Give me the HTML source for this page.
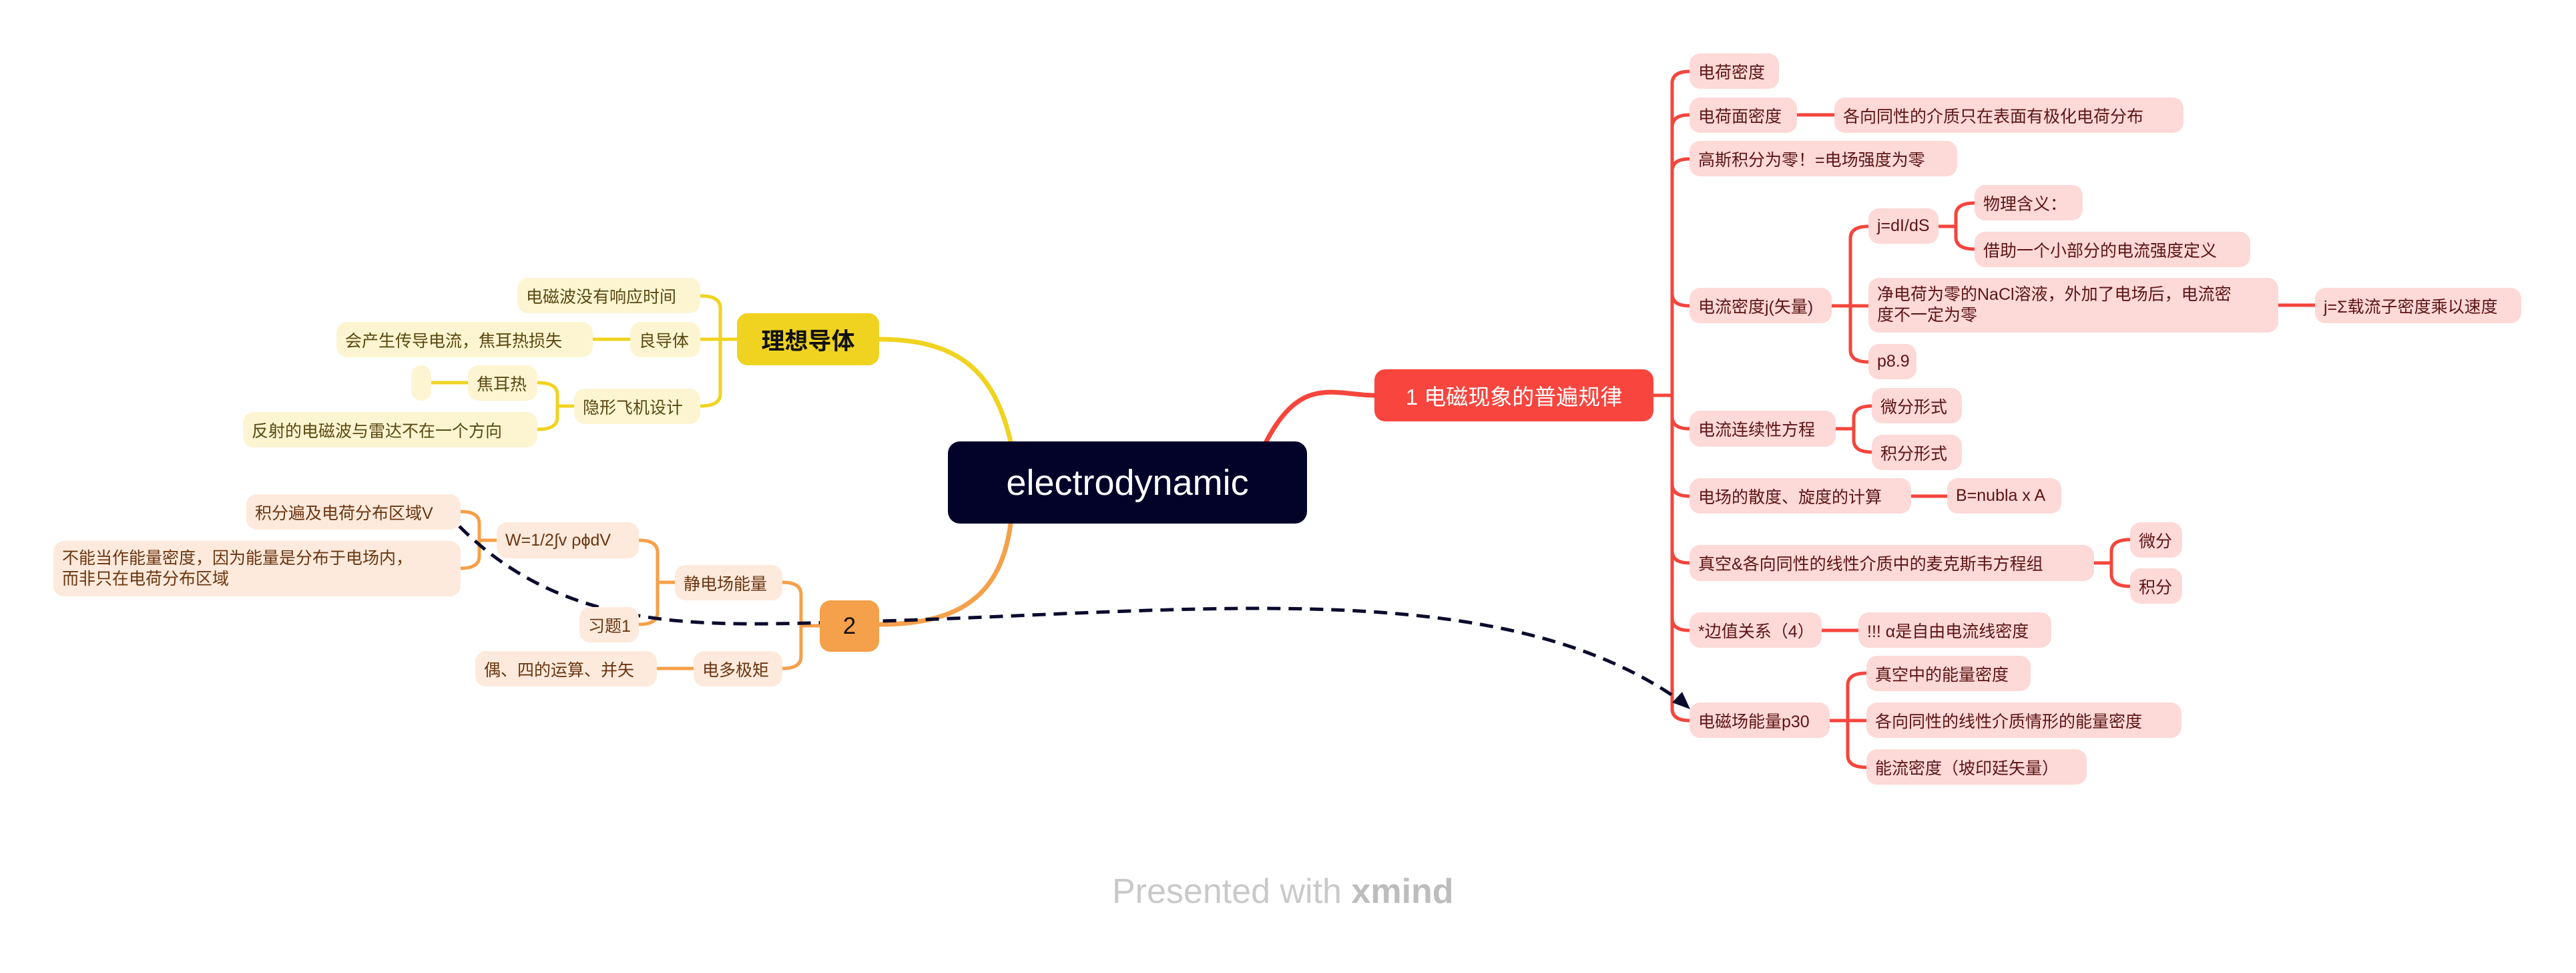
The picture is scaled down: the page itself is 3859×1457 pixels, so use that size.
<!DOCTYPE html>
<html><head><meta charset="utf-8"><style>
body{margin:0;width:3859px;height:1457px;background:#fff;position:relative;overflow:hidden;font-family:"Liberation Sans","Noto Sans CJK SC",sans-serif;}
.b{position:absolute;display:flex;align-items:center;box-sizing:border-box;padding-left:13px;border-radius:16px;font-size:25px;white-space:nowrap;}
.r{background:#fdd9d8;color:#5c1414;}
.y{background:#fdf5d2;color:#5a4810;}
.o{background:#fdeadc;color:#6a3510;}
.m{line-height:31px;}
svg{position:absolute;left:0;top:0;}
</style></head><body>
<svg width="3859" height="1457" fill="none" stroke-linecap="round">
<path d="M1897,661 C1950,560 2000,592 2060,592" stroke="#f5453c" stroke-width="7"/>
<path d="M1317,508 C1440,508 1490,560 1514,661" stroke="#f0d31f" stroke-width="7"/>
<path d="M1317,935 C1440,935 1500,890 1514,784" stroke="#f5a04a" stroke-width="7"/>
<g stroke="#f5453c" stroke-width="5">
<path d="M2477,592 H2505"/>
<path d="M2505,125 Q2505,107 2531,107 M2505,125 V1061 Q2505,1079 2531,1079"/>
<path d="M2505,190 Q2505,172 2531,172 M2505,256 Q2505,238 2531,238 M2505,440 Q2505,458 2531,458 M2505,624 Q2505,642 2531,642 M2505,725 Q2505,743 2531,743 M2505,825 Q2505,843 2531,843 M2505,926 Q2505,944 2531,944"/>
<path d="M2692,172 H2748 M3413,457 H3468 M2863,743 H2917 M2729,944 H2784"/>
<path d="M2744,458 H2799 M2772,357 Q2772,339 2799,339 M2772,357 V524 Q2772,542 2799,542"/>
<path d="M2904,339 H2930 M2930,322 Q2930,304 2958,304 M2930,322 V355 Q2930,373 2958,373"/>
<path d="M2750,642 H2777 M2777,626 Q2777,608 2804,608 M2777,626 V659 Q2777,677 2804,677"/>
<path d="M3137,843 H3163 M3163,826 Q3163,808 3191,808 M3163,826 V860 Q3163,878 3191,878"/>
<path d="M2741,1079 H2796 M2768,1026 Q2768,1008 2796,1008 M2768,1026 V1131 Q2768,1149 2796,1149"/>
</g>
<g stroke="#f0d31f" stroke-width="5">
<path d="M1104,508 H1049 M1079,461 Q1079,443 1049,443 M1079,461 V590 Q1079,608 1049,608"/>
<path d="M944,508 H888 M701,573 H646"/>
<path d="M860,608 H835 M835,591 Q835,573 805,573 M835,591 V625 Q835,643 805,643"/>
</g>
<g stroke="#f5a04a" stroke-width="5">
<path d="M1228,937 H1200 M1200,890 Q1200,872 1172,872 M1200,890 V983 Q1200,1001 1172,1001"/>
<path d="M1039,1001 H984"/>
<path d="M1011,872 H985 M985,827 Q985,809 957,809 M985,827 V917 Q985,935 957,935"/>
<path d="M744,809 H718 M718,784 Q718,766 690,766 M718,784 V833 Q718,851 690,851"/>
</g>
<path d="M688,788 C860,960 1080,935 1320,930 C1800,915 2250,860 2518,1050" stroke="#0b0b2e" stroke-width="5" stroke-dasharray="20,12" stroke-linecap="butt"/>
<polygon points="2532,1062 2505,1052 2520,1036" fill="#0b0b2e"/>
</svg>

<div class="b" style="left:1420px;top:661px;width:538px;height:123px;background:#03032a;color:#fff;font-size:54px;justify-content:center;padding:0;border-radius:18px;">electrodynamic</div>
<div class="b" style="left:2059px;top:553px;width:418px;height:78px;background:#f8453e;color:#fff;font-size:33px;justify-content:center;padding:0;">1 电磁现象的普遍规律</div>
<div class="b" style="left:1104px;top:469px;width:213px;height:78px;background:#f0d321;color:#111;font-size:35px;font-weight:bold;justify-content:center;padding:0;">理想导体</div>
<div class="b" style="left:1228px;top:899px;width:89px;height:77px;background:#f5a04a;color:#111;font-size:35px;justify-content:center;padding:0;">2</div>

<div class="b r" style="left:2531px;top:80px;width:134px;height:53px;">电荷密度</div>
<div class="b r" style="left:2531px;top:146px;width:161px;height:53px;">电荷面密度</div>
<div class="b r" style="left:2748px;top:146px;width:523px;height:53px;">各向同性的介质只在表面有极化电荷分布</div>
<div class="b r" style="left:2531px;top:211px;width:401px;height:53px;">高斯积分为零！=电场强度为零</div>
<div class="b r" style="left:2531px;top:431px;width:213px;height:53px;">电流密度j(矢量)</div>
<div class="b r" style="left:2799px;top:312px;width:105px;height:53px;">j=dI/dS</div>
<div class="b r" style="left:2958px;top:277px;width:162px;height:53px;">物理含义：</div>
<div class="b r" style="left:2958px;top:347px;width:413px;height:53px;">借助一个小部分的电流强度定义</div>
<div class="b r m" style="left:2799px;top:416px;width:614px;height:82px;">净电荷为零的NaCl溶液，外加了电场后，电流密<br>度不一定为零</div>
<div class="b r" style="left:3468px;top:431px;width:309px;height:53px;">j=Σ载流子密度乘以速度</div>
<div class="b r" style="left:2799px;top:515px;width:72px;height:53px;">p8.9</div>
<div class="b r" style="left:2531px;top:615px;width:219px;height:54px;">电流连续性方程</div>
<div class="b r" style="left:2804px;top:581px;width:135px;height:53px;">微分形式</div>
<div class="b r" style="left:2804px;top:651px;width:135px;height:53px;">积分形式</div>
<div class="b r" style="left:2531px;top:716px;width:332px;height:53px;">电场的散度、旋度的计算</div>
<div class="b r" style="left:2917px;top:716px;width:171px;height:53px;">B=nubla x A</div>
<div class="b r" style="left:2531px;top:816px;width:606px;height:54px;">真空&amp;各向同性的线性介质中的麦克斯韦方程组</div>
<div class="b r" style="left:3191px;top:782px;width:78px;height:53px;">微分</div>
<div class="b r" style="left:3191px;top:851px;width:78px;height:53px;">积分</div>
<div class="b r" style="left:2531px;top:917px;width:198px;height:53px;">*边值关系（4）</div>
<div class="b r" style="left:2784px;top:917px;width:289px;height:53px;">!!! α是自由电流线密度</div>
<div class="b r" style="left:2531px;top:1052px;width:210px;height:53px;">电磁场能量p30</div>
<div class="b r" style="left:2796px;top:982px;width:246px;height:53px;">真空中的能量密度</div>
<div class="b r" style="left:2796px;top:1052px;width:472px;height:53px;">各向同性的线性介质情形的能量密度</div>
<div class="b r" style="left:2796px;top:1122px;width:330px;height:53px;">能流密度（坡印廷矢量）</div>

<div class="b y" style="left:775px;top:416px;width:274px;height:53px;">电磁波没有响应时间</div>
<div class="b y" style="left:944px;top:482px;width:105px;height:53px;">良导体</div>
<div class="b y" style="left:504px;top:482px;width:384px;height:53px;">会产生传导电流，焦耳热损失</div>
<div class="b y" style="left:860px;top:582px;width:189px;height:53px;">隐形飞机设计</div>
<div class="b y" style="left:701px;top:547px;width:104px;height:53px;">焦耳热</div>
<div class="b y" style="left:616px;top:547px;width:30px;height:53px;"></div>
<div class="b y" style="left:364px;top:617px;width:441px;height:53px;">反射的电磁波与雷达不在一个方向</div>

<div class="b o" style="left:369px;top:740px;width:321px;height:53px;">积分遍及电荷分布区域V</div>
<div class="b o m" style="left:80px;top:810px;width:610px;height:83px;">不能当作能量密度，因为能量是分布于电场内，<br>而非只在电荷分布区域</div>
<div class="b o" style="left:744px;top:782px;width:213px;height:54px;">W=1/2∫v ρϕdV</div>
<div class="b o" style="left:1011px;top:846px;width:161px;height:53px;">静电场能量</div>
<div class="b o" style="left:868px;top:909px;width:89px;height:53px;">习题1</div>
<div class="b o" style="left:1039px;top:975px;width:133px;height:53px;">电多极矩</div>
<div class="b o" style="left:712px;top:975px;width:272px;height:53px;">偶、四的运算、并矢</div>

<div style="position:absolute;left:1666px;top:1305px;font-size:52px;color:#c9c9c9;white-space:nowrap;">Presented with <b style="color:#bdbdbd">xmind</b></div>
</body></html>
